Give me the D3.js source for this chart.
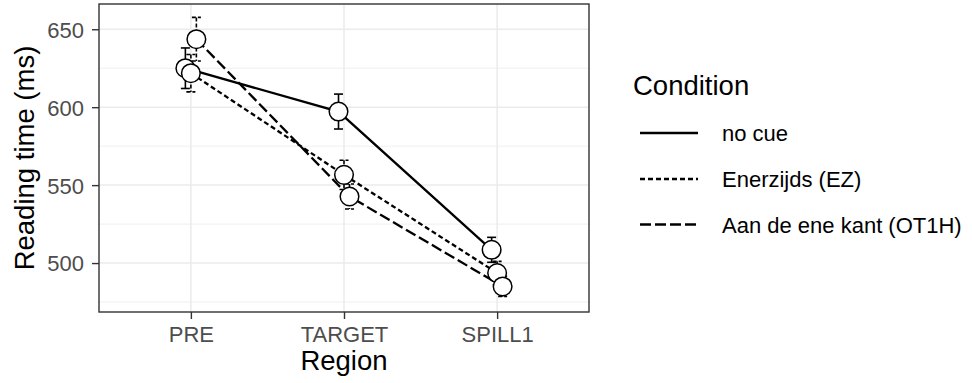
<!DOCTYPE html>
<html>
<head>
<meta charset="utf-8">
<script src="https://d3js.org/d3.v7.min.js"></script>
<style>
  body { margin: 0; background: #fff; }
  text { font-family: "Liberation Sans", Arial, sans-serif; }
</style>
</head>
<body>
<svg id="chart" width="972" height="383"></svg>
<script>
// data
const regions = ["PRE", "TARGET", "SPILL1"];
const conditions = ["no cue", "Enerzijds (EZ)", "Aan de ene kant (OT1H)"];
const meanNoCue = [625, 597.2, 508.5];
const meanEZ = [621.8, 556.6, 493.6];
const meanOT1H = [643.6, 542.7, 485];
const seNoCue = [13, 11.2, 8];
const seEZ = [12, 9.4, 7.5];
const seOT1H = [14, 8, 6.5];
const yTicks = [500, 550, 600, 650];
const yMinor = [475, 525, 575, 625];

const means = [meanNoCue, meanEZ, meanOT1H];
const ses = [seNoCue, seEZ, seOT1H];
const dashes = [null, "5,3", "11,4"];

const series = conditions.map((c, i) => ({
  name: c,
  dash: dashes[i],
  values: regions.map((r, j) => ({ region: r, mean: means[i][j], se: ses[i][j] }))
}));

const svg = d3.select("#chart");
const panel = { left: 99, right: 589, top: 4, bottom: 312 };

const x = d3.scalePoint().domain(regions).range([panel.left, panel.right]).padding(0.6);
const dodge = d3.scalePoint().domain(conditions).range([-5.5, 5.5]);
const y = d3.scaleLinear().domain([468.6, 666.2]).range([panel.bottom, panel.top]);

// grid
const grid = svg.append("g");
grid.selectAll(".minor").data(yMinor).enter().append("line")
  .attr("x1", panel.left).attr("x2", panel.right)
  .attr("y1", d => y(d)).attr("y2", d => y(d))
  .attr("stroke", "#ebebeb").attr("stroke-width", 0.8);
grid.selectAll(".major").data(yTicks).enter().append("line")
  .attr("x1", panel.left).attr("x2", panel.right)
  .attr("y1", d => y(d)).attr("y2", d => y(d))
  .attr("stroke", "#ebebeb").attr("stroke-width", 1.5);
grid.selectAll(".vmajor").data(regions).enter().append("line")
  .attr("x1", d => x(d)).attr("x2", d => x(d))
  .attr("y1", panel.top).attr("y2", panel.bottom)
  .attr("stroke", "#ebebeb").attr("stroke-width", 1.5);

// lines
const line = d3.line()
  .x(d => x(d.region) + d.off)
  .y(d => y(d.mean));

series.forEach(s => {
  svg.append("path")
    .datum(s.values.map(v => ({ ...v, off: dodge(s.name) })))
    .attr("d", line)
    .attr("fill", "none")
    .attr("stroke", "#000")
    .attr("stroke-width", 2.3)
    .attr("stroke-dasharray", s.dash);
});

// error bars
series.forEach(s => {
  const g = svg.append("g")
    .attr("stroke", "#000").attr("stroke-width", 1.6)
    .attr("stroke-dasharray", s.dash ? "4,2" : null);
  s.values.forEach(v => {
    const cx = x(v.region) + dodge(s.name);
    const hi = y(v.mean + v.se), lo = y(v.mean - v.se);
    g.append("line").attr("x1", cx).attr("x2", cx).attr("y1", hi).attr("y2", lo);
    g.append("line").attr("x1", cx - 4.5).attr("x2", cx + 4.5).attr("y1", hi).attr("y2", hi);
    g.append("line").attr("x1", cx - 4.5).attr("x2", cx + 4.5).attr("y1", lo).attr("y2", lo);
  });
});

// points
series.forEach(s => {
  svg.append("g").selectAll("circle").data(s.values).enter().append("circle")
    .attr("cx", d => x(d.region) + dodge(s.name))
    .attr("cy", d => y(d.mean))
    .attr("r", 9.3)
    .attr("fill", "#fff")
    .attr("stroke", "#000")
    .attr("stroke-width", 1.5);
});

// panel border
svg.append("rect")
  .attr("x", panel.left).attr("y", panel.top)
  .attr("width", panel.right - panel.left).attr("height", panel.bottom - panel.top)
  .attr("fill", "none").attr("stroke", "#333").attr("stroke-width", 1.4);

// axes
const yAxis = svg.append("g")
  .attr("transform", `translate(${panel.left},0)`)
  .call(d3.axisLeft(y).tickValues(yTicks).tickSize(7).tickPadding(8));
const xAxis = svg.append("g")
  .attr("transform", `translate(0,${panel.bottom})`)
  .call(d3.axisBottom(x).tickSize(7).tickPadding(7));
[yAxis, xAxis].forEach(a => {
  a.select(".domain").remove();
  a.selectAll(".tick line").attr("stroke", "#333").attr("stroke-width", 1.4);
  a.selectAll(".tick text").attr("fill", "#4d4d4d").style("font-size", "22px")
    .style("font-family", "'Liberation Sans', Arial, sans-serif");
});
yAxis.selectAll(".tick text").attr("dy", "0.36em");

// axis titles
svg.append("text")
  .attr("x", (panel.left + panel.right) / 2).attr("y", 370)
  .attr("text-anchor", "middle").style("font-size", "27.5px")
  .text("Region");
svg.append("text")
  .attr("transform", `translate(34,${(panel.top + panel.bottom) / 2}) rotate(-90)`)
  .attr("text-anchor", "middle").style("font-size", "27.5px")
  .text("Reading time (ms)");

// legend
const legend = svg.append("g");
legend.append("text").attr("x", 633).attr("y", 95)
  .style("font-size", "27.5px").text("Condition");
const rowY = [133, 179, 224.5];
series.forEach((s, i) => {
  legend.append("line")
    .attr("x1", 640).attr("x2", 698)
    .attr("y1", rowY[i]).attr("y2", rowY[i])
    .attr("stroke", "#000").attr("stroke-width", 2.3)
    .attr("stroke-dasharray", s.dash);
  legend.append("text")
    .attr("x", 722).attr("y", rowY[i] + 8)
    .style("font-size", "22px").text(s.name);
});
</script>
</body>
</html>
